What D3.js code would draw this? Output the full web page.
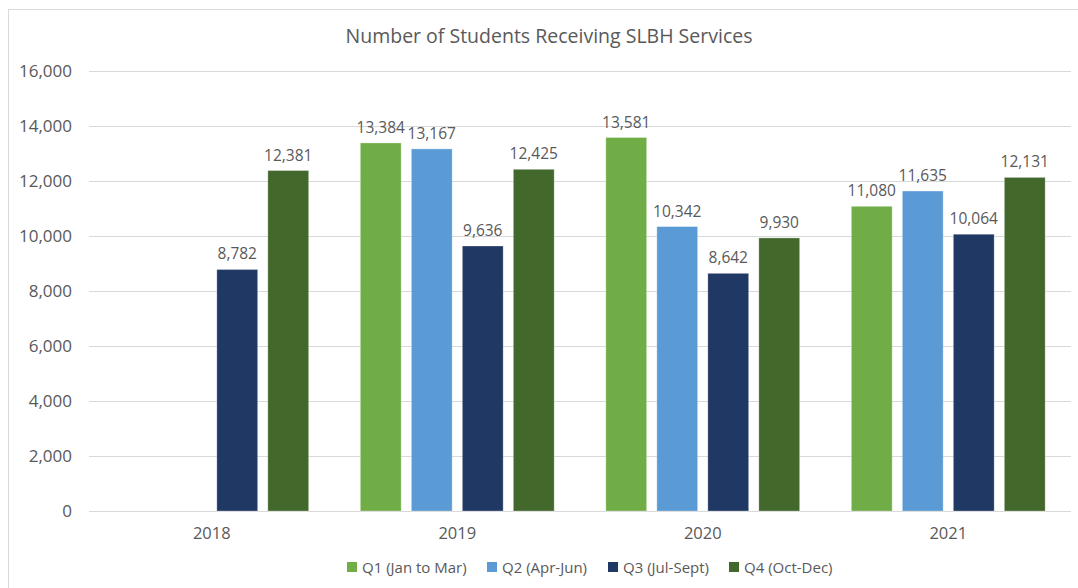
<!DOCTYPE html>
<html>
<head>
<meta charset="utf-8">
<script src="https://cdn.jsdelivr.net/npm/d3@7"></script>
<style>
  html, body { margin: 0; padding: 0; background: #fff; }
  svg { display: block; }
  text { font-family: "Open Sans", "Liberation Sans", sans-serif; fill: #595959; }
</style>
</head>
<body>
<svg id="chart" width="1078" height="588"></svg>
<script>
// Students receiving SLBH services, by year and quarter
const years = ["2018", "2019", "2020", "2021"];
const quarters = ["Q1 (Jan to Mar)", "Q2 (Apr-Jun)", "Q3 (Jul-Sept)", "Q4 (Oct-Dec)"];
const q1 = [null, 13384, 13581, 11080];
const q2 = [null, 13167, 10342, 11635];
const q3 = [8782, 9636, 8642, 10064];
const q4 = [12381, 12425, 9930, 12131];
const colors = ["#70AD47", "#5B9BD5", "#203864", "#43682B"];
const yTicks = [0, 2000, 4000, 6000, 8000, 10000, 12000, 14000, 16000];
const title = "Number of Students Receiving SLBH Services";

const series = [q1, q2, q3, q4];
const rows = [];
years.forEach((y, i) => series.forEach((s, j) => {
  if (s[i] != null) rows.push({ year: y, q: quarters[j], value: s[i], color: colors[j] });
}));

const svg = d3.select("#chart");
const margin = { left: 89, right: 7, top: 71, bottom: 77 };
const W = 1078, H = 588;

// chart frame
svg.append("rect")
  .attr("x", 8.5).attr("y", 9.5)
  .attr("width", 1100).attr("height", 600)
  .attr("fill", "none").attr("stroke", "#d9d9d9");

const x0 = d3.scaleBand().domain(years)
  .range([margin.left, W - margin.right])
  .paddingInner(0.169).paddingOuter(0.0845);
const x1 = d3.scaleBand().domain(quarters)
  .range([0, x0.bandwidth()])
  .paddingInner(0.2).paddingOuter(0.1);
const y = d3.scaleLinear().domain([0, 16000]).range([H - margin.bottom, margin.top]);

// gridlines
svg.append("g").selectAll("line").data(yTicks).join("line")
  .attr("x1", margin.left).attr("x2", W - margin.right)
  .attr("y1", d => Math.round(y(d)) + 0.5).attr("y2", d => Math.round(y(d)) + 0.5)
  .attr("stroke", "#d9d9d9").attr("stroke-width", 1);

// y axis labels
const yAxis = d3.axisLeft(y).tickValues(yTicks).tickFormat(d3.format(",")).tickSize(0).tickPadding(0);
const gy = svg.append("g").attr("transform", `translate(${margin.left - 17},0)`).call(yAxis);
gy.select(".domain").remove();
gy.selectAll("text").style("font-size", "17px").attr("fill", "#595959")
  .style("font-family", "'Open Sans', sans-serif");

// x axis labels
const xAxis = d3.axisBottom(x0).tickSize(0).tickPadding(0);
const gx = svg.append("g").attr("transform", `translate(0,${H - margin.bottom + 16})`).call(xAxis);
gx.select(".domain").remove();
gx.selectAll("text").style("font-size", "16.5px").attr("fill", "#595959")
  .style("font-family", "'Open Sans', sans-serif");

// bars
svg.append("g").selectAll("rect").data(rows).join("rect")
  .attr("x", d => x0(d.year) + x1(d.q))
  .attr("width", x1.bandwidth())
  .attr("y", d => y(d.value))
  .attr("height", d => y(0) - y(d.value))
  .attr("fill", d => d.color)
  .attr("stroke", "#ffffff").attr("stroke-opacity", 0.35).attr("stroke-width", 0.8);

// value labels
svg.append("g").selectAll("text").data(rows).join("text")
  .attr("x", d => x0(d.year) + x1(d.q) + x1.bandwidth() / 2)
  .attr("y", d => y(d.value) - 10)
  .attr("text-anchor", "middle")
  .style("font-size", "15.5px")
  .text(d => d3.format(",")(d.value));

// title
svg.append("text")
  .attr("x", 549).attr("y", 43)
  .attr("text-anchor", "middle")
  .style("font-size", "19.5px")
  .style("font-family", "'Open Sans', sans-serif")
  .text(title);

// legend
const legendX = [347, 487, 608, 729];
const lg = svg.append("g");
quarters.forEach((q, j) => {
  lg.append("rect").attr("x", legendX[j]).attr("y", 562).attr("width", 10).attr("height", 10).attr("fill", colors[j]);
  lg.append("text").attr("x", legendX[j] + 15).attr("y", 573)
    .style("font-size", "15px").text(q);
});
</script>
</body>
</html>
